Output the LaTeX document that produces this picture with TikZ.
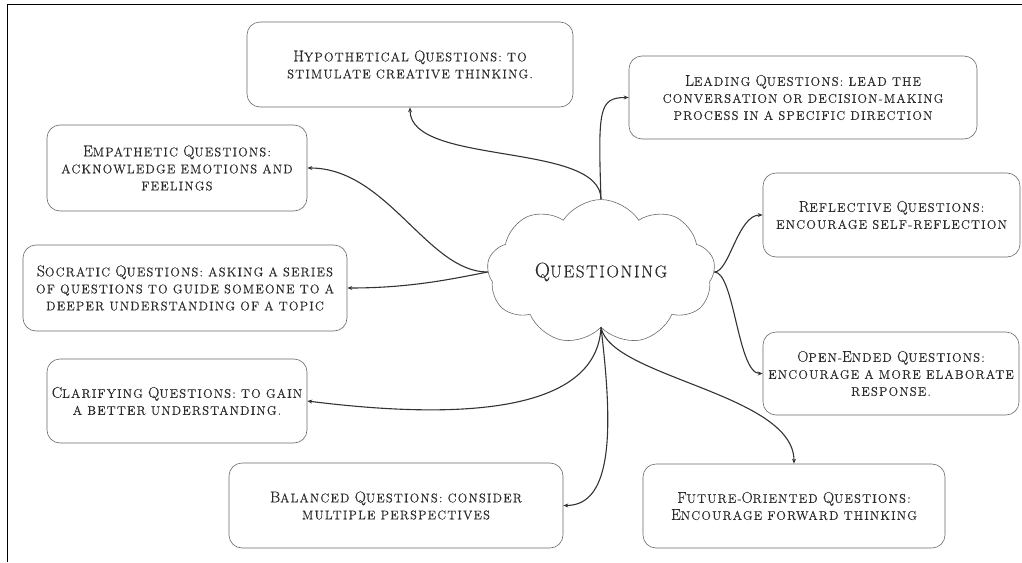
\documentclass[tikz,border=0pt]{standalone}
\usepackage{fontspec}
\newfontfamily\bxf{Latin Modern Roman}[LetterSpace=10,FakeBold=0.4]
\usetikzlibrary{shapes.symbols,arrows.meta}
\definecolor{txt}{HTML}{2A2A2A}
\definecolor{bord}{HTML}{6A6A6A}
\definecolor{linkc}{HTML}{333333}
\newcommand\bigc[1]{{\fontsize{15.5}{17}\selectfont #1}}
\newcommand\bigq[1]{{\fontsize{21}{24}\selectfont #1}}
\begin{document}
\begin{tikzpicture}[x=1pt,y=-1pt,
  box/.style={draw=bord,line width=0.6pt,rounded corners=13pt,align=center,inner sep=0pt,text=txt,
    font=\bxf\fontsize{12.5}{17}\selectfont},
  link/.style={draw=linkc,line width=1.1pt,-{Stealth[length=5pt,width=4pt]}},
  ]
\useasboundingbox (0,0) rectangle (1022,562);
\draw[line width=1.6pt] (7.5,562) -- (7.5,4.5) -- (1022,4.5);

\node[cloud,draw=bord,line width=0.6pt,cloud puffs=9,cloud puff arc=115,aspect=1.6,
  minimum width=228pt,minimum height=140pt,inner sep=0pt,text=txt,
  font=\bxf\fontsize{17}{24}\selectfont] (q) at (601,272) {\bigq{Q}UESTIONING};

\node[box,minimum width=326pt,minimum height=85pt] (hyp) at (410,64.5) {\bigc{H}YPOTHETICAL \bigc{Q}UESTIONS: TO\\STIMULATE CREATIVE THINKING.};
\node[box,minimum width=348pt,minimum height=83pt] (lead) at (803,97.5) {\bigc{L}EADING \bigc{Q}UESTIONS: LEAD THE\\CONVERSATION OR DECISION-MAKING\\PROCESS IN A SPECIFIC DIRECTION};
\node[box,minimum width=257pt,minimum height=84pt] (refl) at (891.5,215) {\bigc{R}EFLECTIVE \bigc{Q}UESTIONS:\\ENCOURAGE SELF-REFLECTION};
\node[box,minimum width=260pt,minimum height=86pt] (emp) at (177,168) {\bigc{E}MPATHETIC \bigc{Q}UESTIONS:\\ACKNOWLEDGE EMOTIONS AND\\FEELINGS};
\node[box,minimum width=324pt,minimum height=86pt] (soc) at (185,288) {\bigc{S}OCRATIC \bigc{Q}UESTIONS: ASKING A SERIES\\OF QUESTIONS TO GUIDE SOMEONE TO A\\DEEPER UNDERSTANDING OF A TOPIC};
\node[box,minimum width=260pt,minimum height=84pt] (clar) at (177,401) {\bigc{C}LARIFYING \bigc{Q}UESTIONS: TO GAIN\\A BETTER UNDERSTANDING.};
\node[box,minimum width=256pt,minimum height=83pt] (open) at (891,373.5) {\bigc{O}PEN-\bigc{E}NDED \bigc{Q}UESTIONS:\\ENCOURAGE A MORE ELABORATE\\RESPONSE.};
\node[box,minimum width=302pt,minimum height=84pt] (fut) at (794,506) {\bigc{F}UTURE-\bigc{O}RIENTED \bigc{Q}UESTIONS:\\\bigc{E}NCOURAGE FORWARD THINKING};
\node[box,minimum width=334pt,minimum height=85pt] (bal) at (396,505.5) {\bigc{B}ALANCED \bigc{Q}UESTIONS: CONSIDER\\MULTIPLE PERSPECTIVES};

\draw[link] (q.north) .. controls +(0,-58) and +(0,59) .. (hyp.south);
\draw[link] (q.north) .. controls +(-3,-90) and +(-30,0) .. (lead.west);
\draw[link] (q.west) .. controls +(-60,0) and +(80,0) .. (emp.east);
\draw[link] (q.west) .. controls +(-40,8) and +(60,0) .. (soc.east);
\draw[link] (q.south) .. controls +(-5,95) and +(120,15) .. (clar.east);
\draw[link] (q.south) .. controls +(12,100) and +(50,0) .. (bal.east);
\draw[link] (q.south) .. controls +(10,50) and +(0,-70) .. (fut.north);
\draw[link] (q.east) .. controls +(15,0) and +(-25,0) .. (refl.west);
\draw[link] (q.east) .. controls +(20,0) and +(-25,0) .. (open.west);
\end{tikzpicture}
\end{document}
